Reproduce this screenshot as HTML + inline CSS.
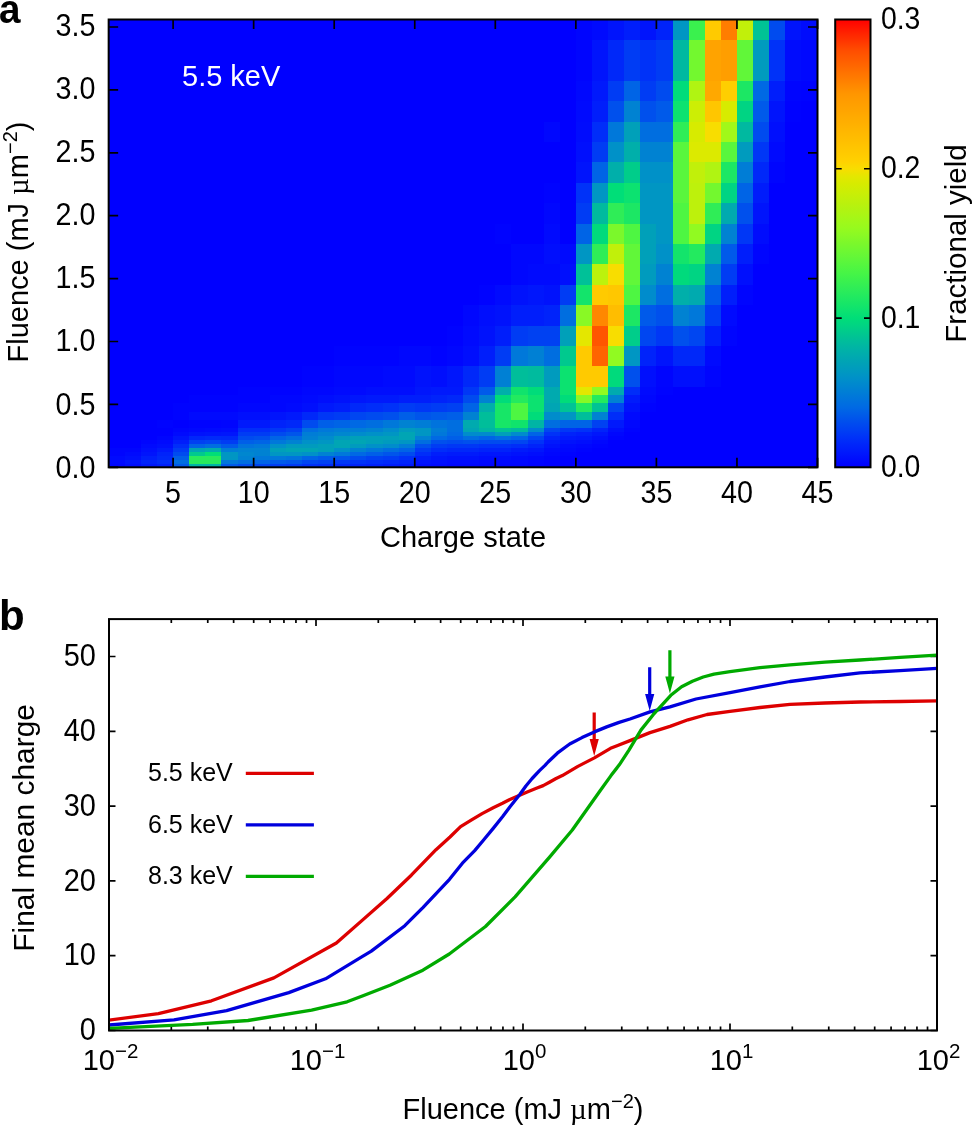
<!DOCTYPE html><html><head><meta charset="utf-8"><style>html,body{margin:0;padding:0;background:#fff;overflow:hidden;width:972px;height:1126px;}svg{display:block;will-change:transform;}text{font-family:"Liberation Sans", sans-serif;}</style></head><body><svg width="972" height="1126" viewBox="0 0 972 1126"><rect x="0" y="0" width="972" height="1126" fill="#fff"/><g shape-rendering="crispEdges"><rect x="108.66" y="19.50" width="467.19" height="20.41" fill="#0000ff"/><rect x="575.85" y="19.50" width="16.11" height="20.41" fill="#0005fe"/><rect x="591.96" y="19.50" width="16.11" height="20.41" fill="#000afe"/><rect x="608.07" y="19.50" width="16.11" height="20.41" fill="#0014fc"/><rect x="624.18" y="19.50" width="16.11" height="20.41" fill="#001efb"/><rect x="640.29" y="19.50" width="16.11" height="20.41" fill="#0014fc"/><rect x="656.40" y="19.50" width="16.11" height="20.41" fill="#0023fa"/><rect x="672.51" y="19.50" width="16.11" height="20.41" fill="#0096c3"/><rect x="688.62" y="19.50" width="16.11" height="20.41" fill="#3af14e"/><rect x="704.73" y="19.50" width="16.11" height="20.41" fill="#ffca00"/><rect x="720.84" y="19.50" width="16.11" height="20.41" fill="#ff7d00"/><rect x="736.95" y="19.50" width="16.11" height="20.41" fill="#c1f00a"/><rect x="753.06" y="19.50" width="16.11" height="20.41" fill="#00c395"/><rect x="769.17" y="19.50" width="16.11" height="20.41" fill="#004bef"/><rect x="785.28" y="19.50" width="16.11" height="20.41" fill="#0014fc"/><rect x="801.39" y="19.50" width="16.11" height="20.41" fill="#000cfd"/><rect x="108.66" y="39.91" width="467.19" height="20.41" fill="#0000ff"/><rect x="575.85" y="39.91" width="16.11" height="20.41" fill="#0005fe"/><rect x="591.96" y="39.91" width="16.11" height="20.41" fill="#0014fc"/><rect x="608.07" y="39.91" width="16.11" height="20.41" fill="#0028f9"/><rect x="624.18" y="39.91" width="16.11" height="20.41" fill="#003cf4"/><rect x="640.29" y="39.91" width="16.11" height="20.41" fill="#0032f8"/><rect x="656.40" y="39.91" width="16.11" height="20.41" fill="#003cf4"/><rect x="672.51" y="39.91" width="16.11" height="20.41" fill="#00b9a0"/><rect x="688.62" y="39.91" width="16.11" height="20.41" fill="#73f82f"/><rect x="704.73" y="39.91" width="16.11" height="20.41" fill="#ffa300"/><rect x="720.84" y="39.91" width="16.11" height="20.41" fill="#ff9e00"/><rect x="736.95" y="39.91" width="16.11" height="20.41" fill="#61f739"/><rect x="753.06" y="39.91" width="16.11" height="20.41" fill="#009bbe"/><rect x="769.17" y="39.91" width="16.11" height="20.41" fill="#0032f8"/><rect x="785.28" y="39.91" width="16.11" height="20.41" fill="#000cfd"/><rect x="801.39" y="39.91" width="16.11" height="20.41" fill="#0008fe"/><rect x="108.66" y="60.32" width="467.19" height="20.41" fill="#0000ff"/><rect x="575.85" y="60.32" width="16.11" height="20.41" fill="#0005fe"/><rect x="591.96" y="60.32" width="16.11" height="20.41" fill="#0014fc"/><rect x="608.07" y="60.32" width="16.11" height="20.41" fill="#0028f9"/><rect x="624.18" y="60.32" width="16.11" height="20.41" fill="#003cf4"/><rect x="640.29" y="60.32" width="16.11" height="20.41" fill="#0032f8"/><rect x="656.40" y="60.32" width="16.11" height="20.41" fill="#003cf4"/><rect x="672.51" y="60.32" width="16.11" height="20.41" fill="#00b9a0"/><rect x="688.62" y="60.32" width="16.11" height="20.41" fill="#73f82f"/><rect x="704.73" y="60.32" width="16.11" height="20.41" fill="#ffa300"/><rect x="720.84" y="60.32" width="16.11" height="20.41" fill="#ff9e00"/><rect x="736.95" y="60.32" width="16.11" height="20.41" fill="#61f739"/><rect x="753.06" y="60.32" width="16.11" height="20.41" fill="#009bbe"/><rect x="769.17" y="60.32" width="16.11" height="20.41" fill="#0032f8"/><rect x="785.28" y="60.32" width="16.11" height="20.41" fill="#000cfd"/><rect x="801.39" y="60.32" width="16.11" height="20.41" fill="#0008fe"/><rect x="108.66" y="80.73" width="467.19" height="20.41" fill="#0000ff"/><rect x="575.85" y="80.73" width="16.11" height="20.41" fill="#0008fe"/><rect x="591.96" y="80.73" width="16.11" height="20.41" fill="#0019fc"/><rect x="608.07" y="80.73" width="16.11" height="20.41" fill="#003cf4"/><rect x="624.18" y="80.73" width="16.11" height="20.41" fill="#0064e6"/><rect x="640.29" y="80.73" width="16.11" height="20.41" fill="#003cf4"/><rect x="656.40" y="80.73" width="16.11" height="20.41" fill="#004bef"/><rect x="672.51" y="80.73" width="16.11" height="20.41" fill="#00dc7a"/><rect x="688.62" y="80.73" width="16.11" height="20.41" fill="#b0f412"/><rect x="704.73" y="80.73" width="16.11" height="20.41" fill="#ffa800"/><rect x="720.84" y="80.73" width="16.11" height="20.41" fill="#ffce00"/><rect x="736.95" y="80.73" width="16.11" height="20.41" fill="#1ce764"/><rect x="753.06" y="80.73" width="16.11" height="20.41" fill="#0069e4"/><rect x="769.17" y="80.73" width="16.11" height="20.41" fill="#001efb"/><rect x="785.28" y="80.73" width="16.11" height="20.41" fill="#0005fe"/><rect x="801.39" y="80.73" width="16.11" height="20.41" fill="#0003ff"/><rect x="108.66" y="101.14" width="467.19" height="20.41" fill="#0000ff"/><rect x="575.85" y="101.14" width="16.11" height="20.41" fill="#000afe"/><rect x="591.96" y="101.14" width="16.11" height="20.41" fill="#001efb"/><rect x="608.07" y="101.14" width="16.11" height="20.41" fill="#0050ed"/><rect x="624.18" y="101.14" width="16.11" height="20.41" fill="#0082d2"/><rect x="640.29" y="101.14" width="16.11" height="20.41" fill="#0050ed"/><rect x="656.40" y="101.14" width="16.11" height="20.41" fill="#005aea"/><rect x="672.51" y="101.14" width="16.11" height="20.41" fill="#0ce270"/><rect x="688.62" y="101.14" width="16.11" height="20.41" fill="#ccee05"/><rect x="704.73" y="101.14" width="16.11" height="20.41" fill="#ffc600"/><rect x="720.84" y="101.14" width="16.11" height="20.41" fill="#d7eb00"/><rect x="736.95" y="101.14" width="16.11" height="20.41" fill="#00d483"/><rect x="753.06" y="101.14" width="16.11" height="20.41" fill="#005aea"/><rect x="769.17" y="101.14" width="16.11" height="20.41" fill="#0014fc"/><rect x="785.28" y="101.14" width="16.11" height="20.41" fill="#0002ff"/><rect x="801.39" y="101.14" width="16.11" height="20.41" fill="#0000ff"/><rect x="108.66" y="121.56" width="434.97" height="20.41" fill="#0000ff"/><rect x="543.63" y="121.56" width="16.11" height="20.41" fill="#0007fe"/><rect x="559.74" y="121.56" width="16.11" height="20.41" fill="#0000ff"/><rect x="575.85" y="121.56" width="16.11" height="20.41" fill="#000cfd"/><rect x="591.96" y="121.56" width="16.11" height="20.41" fill="#002df9"/><rect x="608.07" y="121.56" width="16.11" height="20.41" fill="#0078da"/><rect x="624.18" y="121.56" width="16.11" height="20.41" fill="#00a0b9"/><rect x="640.29" y="121.56" width="32.22" height="20.41" fill="#006ee0"/><rect x="672.51" y="121.56" width="16.11" height="20.41" fill="#2fed57"/><rect x="688.62" y="121.56" width="16.11" height="20.41" fill="#d7eb00"/><rect x="704.73" y="121.56" width="16.11" height="20.41" fill="#f8dd00"/><rect x="720.84" y="121.56" width="16.11" height="20.41" fill="#a1f819"/><rect x="736.95" y="121.56" width="16.11" height="20.41" fill="#00b9a0"/><rect x="753.06" y="121.56" width="16.11" height="20.41" fill="#004bef"/><rect x="769.17" y="121.56" width="16.11" height="20.41" fill="#000ffd"/><rect x="785.28" y="121.56" width="32.22" height="20.41" fill="#0000ff"/><rect x="108.66" y="141.97" width="467.19" height="20.41" fill="#0000ff"/><rect x="575.85" y="141.97" width="16.11" height="20.41" fill="#000ffd"/><rect x="591.96" y="141.97" width="16.11" height="20.41" fill="#003cf4"/><rect x="608.07" y="141.97" width="16.11" height="20.41" fill="#0091c8"/><rect x="624.18" y="141.97" width="16.11" height="20.41" fill="#00afaa"/><rect x="640.29" y="141.97" width="32.22" height="20.41" fill="#0082d2"/><rect x="672.51" y="141.97" width="16.11" height="20.41" fill="#59f63d"/><rect x="688.62" y="141.97" width="32.22" height="20.41" fill="#dcea00"/><rect x="720.84" y="141.97" width="16.11" height="20.41" fill="#59f63d"/><rect x="736.95" y="141.97" width="16.11" height="20.41" fill="#009bbe"/><rect x="753.06" y="141.97" width="16.11" height="20.41" fill="#0037f6"/><rect x="769.17" y="141.97" width="16.11" height="20.41" fill="#000afe"/><rect x="785.28" y="141.97" width="32.22" height="20.41" fill="#0000ff"/><rect x="108.66" y="162.38" width="467.19" height="20.41" fill="#0000ff"/><rect x="575.85" y="162.38" width="16.11" height="20.41" fill="#0014fc"/><rect x="591.96" y="162.38" width="16.11" height="20.41" fill="#0064e6"/><rect x="608.07" y="162.38" width="16.11" height="20.41" fill="#00afaa"/><rect x="624.18" y="162.38" width="16.11" height="20.41" fill="#00cd8a"/><rect x="640.29" y="162.38" width="32.22" height="20.41" fill="#0091c8"/><rect x="672.51" y="162.38" width="16.11" height="20.41" fill="#59f63d"/><rect x="688.62" y="162.38" width="16.11" height="20.41" fill="#c1f00a"/><rect x="704.73" y="162.38" width="16.11" height="20.41" fill="#b0f412"/><rect x="720.84" y="162.38" width="16.11" height="20.41" fill="#1ce764"/><rect x="736.95" y="162.38" width="16.11" height="20.41" fill="#007dd6"/><rect x="753.06" y="162.38" width="16.11" height="20.41" fill="#0028f9"/><rect x="769.17" y="162.38" width="16.11" height="20.41" fill="#0005fe"/><rect x="785.28" y="162.38" width="32.22" height="20.41" fill="#0000ff"/><rect x="108.66" y="182.79" width="434.97" height="20.41" fill="#0000ff"/><rect x="543.63" y="182.79" width="16.11" height="20.41" fill="#0003ff"/><rect x="559.74" y="182.79" width="16.11" height="20.41" fill="#0000ff"/><rect x="575.85" y="182.79" width="16.11" height="20.41" fill="#0032f8"/><rect x="591.96" y="182.79" width="16.11" height="20.41" fill="#0096c3"/><rect x="608.07" y="182.79" width="16.11" height="20.41" fill="#00de78"/><rect x="624.18" y="182.79" width="16.11" height="20.41" fill="#0ce270"/><rect x="640.29" y="182.79" width="32.22" height="20.41" fill="#0096c3"/><rect x="672.51" y="182.79" width="16.11" height="20.41" fill="#59f63d"/><rect x="688.62" y="182.79" width="16.11" height="20.41" fill="#bdf10c"/><rect x="704.73" y="182.79" width="16.11" height="20.41" fill="#73f82f"/><rect x="720.84" y="182.79" width="16.11" height="20.41" fill="#00d483"/><rect x="736.95" y="182.79" width="16.11" height="20.41" fill="#0064e6"/><rect x="753.06" y="182.79" width="16.11" height="20.41" fill="#001cfb"/><rect x="769.17" y="182.79" width="48.33" height="20.41" fill="#0000ff"/><rect x="108.66" y="203.20" width="434.97" height="20.41" fill="#0000ff"/><rect x="543.63" y="203.20" width="16.11" height="20.41" fill="#0007fe"/><rect x="559.74" y="203.20" width="16.11" height="20.41" fill="#0000ff"/><rect x="575.85" y="203.20" width="16.11" height="20.41" fill="#003cf4"/><rect x="591.96" y="203.20" width="16.11" height="20.41" fill="#00ba9e"/><rect x="608.07" y="203.20" width="16.11" height="20.41" fill="#2fed57"/><rect x="624.18" y="203.20" width="16.11" height="20.41" fill="#1ce764"/><rect x="640.29" y="203.20" width="32.22" height="20.41" fill="#0096c3"/><rect x="672.51" y="203.20" width="16.11" height="20.41" fill="#4ef642"/><rect x="688.62" y="203.20" width="16.11" height="20.41" fill="#bdf10c"/><rect x="704.73" y="203.20" width="16.11" height="20.41" fill="#2fed57"/><rect x="720.84" y="203.20" width="16.11" height="20.41" fill="#00aaaf"/><rect x="736.95" y="203.20" width="16.11" height="20.41" fill="#0050ed"/><rect x="753.06" y="203.20" width="16.11" height="20.41" fill="#0014fc"/><rect x="769.17" y="203.20" width="48.33" height="20.41" fill="#0000ff"/><rect x="108.66" y="223.61" width="386.64" height="20.41" fill="#0000ff"/><rect x="495.30" y="223.61" width="16.11" height="20.41" fill="#0003ff"/><rect x="511.41" y="223.61" width="32.22" height="20.41" fill="#0000ff"/><rect x="543.63" y="223.61" width="16.11" height="20.41" fill="#000afe"/><rect x="559.74" y="223.61" width="16.11" height="20.41" fill="#0000ff"/><rect x="575.85" y="223.61" width="16.11" height="20.41" fill="#0064e6"/><rect x="591.96" y="223.61" width="16.11" height="20.41" fill="#00da7c"/><rect x="608.07" y="223.61" width="16.11" height="20.41" fill="#7bf82b"/><rect x="624.18" y="223.61" width="16.11" height="20.41" fill="#4ef642"/><rect x="640.29" y="223.61" width="16.11" height="20.41" fill="#00a0b9"/><rect x="656.40" y="223.61" width="16.11" height="20.41" fill="#0096c3"/><rect x="672.51" y="223.61" width="16.11" height="20.41" fill="#4ef642"/><rect x="688.62" y="223.61" width="16.11" height="20.41" fill="#91fa21"/><rect x="704.73" y="223.61" width="16.11" height="20.41" fill="#00d483"/><rect x="720.84" y="223.61" width="16.11" height="20.41" fill="#0082d2"/><rect x="736.95" y="223.61" width="16.11" height="20.41" fill="#0037f6"/><rect x="753.06" y="223.61" width="16.11" height="20.41" fill="#000cfd"/><rect x="769.17" y="223.61" width="48.33" height="20.41" fill="#0000ff"/><rect x="108.66" y="244.02" width="402.75" height="20.41" fill="#0000ff"/><rect x="511.41" y="244.02" width="32.22" height="20.41" fill="#0007fe"/><rect x="543.63" y="244.02" width="16.11" height="20.41" fill="#000efd"/><rect x="559.74" y="244.02" width="16.11" height="20.41" fill="#000afe"/><rect x="575.85" y="244.02" width="16.11" height="20.41" fill="#0096c3"/><rect x="591.96" y="244.02" width="16.11" height="20.41" fill="#2fed57"/><rect x="608.07" y="244.02" width="16.11" height="20.41" fill="#c1f00a"/><rect x="624.18" y="244.02" width="16.11" height="20.41" fill="#61f739"/><rect x="640.29" y="244.02" width="16.11" height="20.41" fill="#00a0b9"/><rect x="656.40" y="244.02" width="16.11" height="20.41" fill="#0091c8"/><rect x="672.51" y="244.02" width="16.11" height="20.41" fill="#13e46b"/><rect x="688.62" y="244.02" width="16.11" height="20.41" fill="#23ea5f"/><rect x="704.73" y="244.02" width="16.11" height="20.41" fill="#00aaaf"/><rect x="720.84" y="244.02" width="16.11" height="20.41" fill="#005aea"/><rect x="736.95" y="244.02" width="16.11" height="20.41" fill="#001efb"/><rect x="753.06" y="244.02" width="16.11" height="20.41" fill="#0005fe"/><rect x="769.17" y="244.02" width="48.33" height="20.41" fill="#0000ff"/><rect x="108.66" y="264.43" width="402.75" height="20.41" fill="#0000ff"/><rect x="511.41" y="264.43" width="16.11" height="20.41" fill="#0007fe"/><rect x="527.52" y="264.43" width="32.22" height="20.41" fill="#000afe"/><rect x="559.74" y="264.43" width="16.11" height="20.41" fill="#000ffd"/><rect x="575.85" y="264.43" width="16.11" height="20.41" fill="#00c198"/><rect x="591.96" y="264.43" width="16.11" height="20.41" fill="#bbf20d"/><rect x="608.07" y="264.43" width="16.11" height="20.41" fill="#f8dd00"/><rect x="624.18" y="264.43" width="16.11" height="20.41" fill="#61f739"/><rect x="640.29" y="264.43" width="16.11" height="20.41" fill="#009bbe"/><rect x="656.40" y="264.43" width="16.11" height="20.41" fill="#0082d2"/><rect x="672.51" y="264.43" width="16.11" height="20.41" fill="#00da7c"/><rect x="688.62" y="264.43" width="16.11" height="20.41" fill="#00d483"/><rect x="704.73" y="264.43" width="16.11" height="20.41" fill="#0082d2"/><rect x="720.84" y="264.43" width="16.11" height="20.41" fill="#003cf4"/><rect x="736.95" y="264.43" width="16.11" height="20.41" fill="#000ffd"/><rect x="753.06" y="264.43" width="64.44" height="20.41" fill="#0000ff"/><rect x="108.66" y="284.84" width="370.53" height="20.41" fill="#0000ff"/><rect x="479.19" y="284.84" width="16.11" height="20.41" fill="#0003ff"/><rect x="495.30" y="284.84" width="16.11" height="20.41" fill="#000afe"/><rect x="511.41" y="284.84" width="16.11" height="20.41" fill="#0012fc"/><rect x="527.52" y="284.84" width="16.11" height="20.41" fill="#0016fc"/><rect x="543.63" y="284.84" width="16.11" height="20.41" fill="#0012fc"/><rect x="559.74" y="284.84" width="16.11" height="20.41" fill="#003cf4"/><rect x="575.85" y="284.84" width="16.11" height="20.41" fill="#13e46b"/><rect x="591.96" y="284.84" width="16.11" height="20.41" fill="#ffca00"/><rect x="608.07" y="284.84" width="16.11" height="20.41" fill="#ffc700"/><rect x="624.18" y="284.84" width="16.11" height="20.41" fill="#4ef642"/><rect x="640.29" y="284.84" width="16.11" height="20.41" fill="#008ccc"/><rect x="656.40" y="284.84" width="16.11" height="20.41" fill="#006ee0"/><rect x="672.51" y="284.84" width="16.11" height="20.41" fill="#00afaa"/><rect x="688.62" y="284.84" width="16.11" height="20.41" fill="#00aaaf"/><rect x="704.73" y="284.84" width="16.11" height="20.41" fill="#005aea"/><rect x="720.84" y="284.84" width="16.11" height="20.41" fill="#001efb"/><rect x="736.95" y="284.84" width="16.11" height="20.41" fill="#0005fe"/><rect x="753.06" y="284.84" width="64.44" height="20.41" fill="#0000ff"/><rect x="108.66" y="305.26" width="354.42" height="20.41" fill="#0000ff"/><rect x="463.08" y="305.26" width="16.11" height="20.41" fill="#0007fe"/><rect x="479.19" y="305.26" width="16.11" height="20.41" fill="#000efd"/><rect x="495.30" y="305.26" width="16.11" height="20.41" fill="#0012fc"/><rect x="511.41" y="305.26" width="32.22" height="20.41" fill="#001efb"/><rect x="543.63" y="305.26" width="16.11" height="20.41" fill="#0023fa"/><rect x="559.74" y="305.26" width="16.11" height="20.41" fill="#006ee0"/><rect x="575.85" y="305.26" width="16.11" height="20.41" fill="#89f925"/><rect x="591.96" y="305.26" width="16.11" height="20.41" fill="#ff8700"/><rect x="608.07" y="305.26" width="16.11" height="20.41" fill="#ffbd00"/><rect x="624.18" y="305.26" width="16.11" height="20.41" fill="#1ce764"/><rect x="640.29" y="305.26" width="16.11" height="20.41" fill="#005aea"/><rect x="656.40" y="305.26" width="16.11" height="20.41" fill="#0050ed"/><rect x="672.51" y="305.26" width="16.11" height="20.41" fill="#0082d2"/><rect x="688.62" y="305.26" width="16.11" height="20.41" fill="#0078da"/><rect x="704.73" y="305.26" width="16.11" height="20.41" fill="#003cf4"/><rect x="720.84" y="305.26" width="16.11" height="20.41" fill="#000afe"/><rect x="736.95" y="305.26" width="80.55" height="20.41" fill="#0000ff"/><rect x="108.66" y="325.67" width="338.31" height="20.41" fill="#0000ff"/><rect x="446.97" y="325.67" width="16.11" height="20.41" fill="#0003ff"/><rect x="463.08" y="325.67" width="16.11" height="20.41" fill="#000afe"/><rect x="479.19" y="325.67" width="16.11" height="20.41" fill="#0012fc"/><rect x="495.30" y="325.67" width="16.11" height="20.41" fill="#001efb"/><rect x="511.41" y="325.67" width="16.11" height="20.41" fill="#003cf4"/><rect x="527.52" y="325.67" width="32.22" height="20.41" fill="#0041f2"/><rect x="559.74" y="325.67" width="16.11" height="20.41" fill="#00a0b9"/><rect x="575.85" y="325.67" width="16.11" height="20.41" fill="#e4e700"/><rect x="591.96" y="325.67" width="16.11" height="20.41" fill="#ff5500"/><rect x="608.07" y="325.67" width="16.11" height="20.41" fill="#f8dd00"/><rect x="624.18" y="325.67" width="16.11" height="20.41" fill="#00cd8a"/><rect x="640.29" y="325.67" width="16.11" height="20.41" fill="#0046f1"/><rect x="656.40" y="325.67" width="16.11" height="20.41" fill="#0037f6"/><rect x="672.51" y="325.67" width="16.11" height="20.41" fill="#0050ed"/><rect x="688.62" y="325.67" width="16.11" height="20.41" fill="#0046f1"/><rect x="704.73" y="325.67" width="16.11" height="20.41" fill="#001efb"/><rect x="720.84" y="325.67" width="16.11" height="20.41" fill="#0005fe"/><rect x="736.95" y="325.67" width="80.55" height="20.41" fill="#0000ff"/><rect x="108.66" y="346.08" width="225.54" height="20.41" fill="#0000ff"/><rect x="334.20" y="346.08" width="64.44" height="20.41" fill="#0003ff"/><rect x="398.64" y="346.08" width="32.22" height="20.41" fill="#0007fe"/><rect x="430.86" y="346.08" width="16.11" height="20.41" fill="#0003ff"/><rect x="446.97" y="346.08" width="16.11" height="20.41" fill="#0007fe"/><rect x="463.08" y="346.08" width="16.11" height="20.41" fill="#000efd"/><rect x="479.19" y="346.08" width="16.11" height="20.41" fill="#001efb"/><rect x="495.30" y="346.08" width="16.11" height="20.41" fill="#003cf4"/><rect x="511.41" y="346.08" width="16.11" height="20.41" fill="#0078da"/><rect x="527.52" y="346.08" width="16.11" height="20.41" fill="#0080d4"/><rect x="543.63" y="346.08" width="16.11" height="20.41" fill="#006ee0"/><rect x="559.74" y="346.08" width="16.11" height="20.41" fill="#00c98e"/><rect x="575.85" y="346.08" width="16.11" height="20.41" fill="#ffca00"/><rect x="591.96" y="346.08" width="16.11" height="20.41" fill="#ff6400"/><rect x="608.07" y="346.08" width="16.11" height="20.41" fill="#91fa21"/><rect x="624.18" y="346.08" width="16.11" height="20.41" fill="#0096c3"/><rect x="640.29" y="346.08" width="16.11" height="20.41" fill="#0023fa"/><rect x="656.40" y="346.08" width="16.11" height="20.41" fill="#0014fc"/><rect x="672.51" y="346.08" width="32.22" height="20.41" fill="#0028f9"/><rect x="704.73" y="346.08" width="16.11" height="20.41" fill="#000afe"/><rect x="720.84" y="346.08" width="96.66" height="20.41" fill="#0000ff"/><rect x="108.66" y="366.49" width="193.32" height="20.41" fill="#0000ff"/><rect x="301.98" y="366.49" width="32.22" height="20.41" fill="#0003ff"/><rect x="334.20" y="366.49" width="48.33" height="20.41" fill="#0007fe"/><rect x="382.53" y="366.49" width="32.22" height="20.41" fill="#000afe"/><rect x="414.75" y="366.49" width="16.11" height="20.41" fill="#0012fc"/><rect x="430.86" y="366.49" width="16.11" height="20.41" fill="#000efd"/><rect x="446.97" y="366.49" width="16.11" height="20.41" fill="#0016fc"/><rect x="463.08" y="366.49" width="16.11" height="20.41" fill="#0028f9"/><rect x="479.19" y="366.49" width="16.11" height="20.41" fill="#003cf4"/><rect x="495.30" y="366.49" width="16.11" height="20.41" fill="#0080d4"/><rect x="511.41" y="366.49" width="16.11" height="20.41" fill="#00be9a"/><rect x="527.52" y="366.49" width="16.11" height="20.41" fill="#00bb9e"/><rect x="543.63" y="366.49" width="16.11" height="20.41" fill="#009bbe"/><rect x="559.74" y="366.49" width="16.11" height="20.41" fill="#0ce270"/><rect x="575.85" y="366.49" width="32.22" height="20.41" fill="#ffca00"/><rect x="608.07" y="366.49" width="16.11" height="20.41" fill="#00da7c"/><rect x="624.18" y="366.49" width="16.11" height="20.41" fill="#0050ed"/><rect x="640.29" y="366.49" width="16.11" height="20.41" fill="#000ffd"/><rect x="656.40" y="366.49" width="16.11" height="20.41" fill="#0005fe"/><rect x="672.51" y="366.49" width="32.22" height="20.41" fill="#000ffd"/><rect x="704.73" y="366.49" width="16.11" height="20.41" fill="#0005fe"/><rect x="720.84" y="366.49" width="96.66" height="20.41" fill="#0000ff"/><rect x="108.66" y="386.90" width="128.88" height="8.20" fill="#0000ff"/><rect x="237.54" y="386.90" width="64.44" height="8.20" fill="#0003ff"/><rect x="301.98" y="386.90" width="32.22" height="8.20" fill="#0007fe"/><rect x="334.20" y="386.90" width="32.22" height="8.20" fill="#000afe"/><rect x="366.42" y="386.90" width="48.33" height="8.20" fill="#000efd"/><rect x="414.75" y="386.90" width="16.11" height="8.20" fill="#0016fc"/><rect x="430.86" y="386.90" width="32.22" height="8.20" fill="#0019fc"/><rect x="463.08" y="386.90" width="16.11" height="8.20" fill="#0037f6"/><rect x="479.19" y="386.90" width="16.11" height="8.20" fill="#005aea"/><rect x="495.30" y="386.90" width="16.11" height="8.20" fill="#00afaa"/><rect x="511.41" y="386.90" width="16.11" height="8.20" fill="#10e36c"/><rect x="527.52" y="386.90" width="16.11" height="8.20" fill="#00dc7a"/><rect x="543.63" y="386.90" width="16.11" height="8.20" fill="#00aaaf"/><rect x="559.74" y="386.90" width="16.11" height="8.20" fill="#0ce270"/><rect x="575.85" y="386.90" width="16.11" height="8.20" fill="#e4e700"/><rect x="591.96" y="386.90" width="16.11" height="8.20" fill="#91fa21"/><rect x="608.07" y="386.90" width="16.11" height="8.20" fill="#00aaaf"/><rect x="624.18" y="386.90" width="16.11" height="8.20" fill="#002df9"/><rect x="640.29" y="386.90" width="16.11" height="8.20" fill="#000afe"/><rect x="656.40" y="386.90" width="16.11" height="8.20" fill="#0003ff"/><rect x="672.51" y="386.90" width="144.99" height="8.20" fill="#0000ff"/><rect x="108.66" y="395.10" width="80.55" height="8.20" fill="#0000ff"/><rect x="189.21" y="395.10" width="80.55" height="8.20" fill="#0003ff"/><rect x="269.76" y="395.10" width="32.22" height="8.20" fill="#0007fe"/><rect x="301.98" y="395.10" width="16.11" height="8.20" fill="#000afe"/><rect x="318.09" y="395.10" width="16.11" height="8.20" fill="#000efd"/><rect x="334.20" y="395.10" width="16.11" height="8.20" fill="#0012fc"/><rect x="350.31" y="395.10" width="16.11" height="8.20" fill="#0016fc"/><rect x="366.42" y="395.10" width="32.22" height="8.20" fill="#0019fc"/><rect x="398.64" y="395.10" width="32.22" height="8.20" fill="#001efb"/><rect x="430.86" y="395.10" width="16.11" height="8.20" fill="#0023fa"/><rect x="446.97" y="395.10" width="16.11" height="8.20" fill="#0028f9"/><rect x="463.08" y="395.10" width="16.11" height="8.20" fill="#004bef"/><rect x="479.19" y="395.10" width="16.11" height="8.20" fill="#0082d2"/><rect x="495.30" y="395.10" width="16.11" height="8.20" fill="#00dc7a"/><rect x="511.41" y="395.10" width="16.11" height="8.20" fill="#23ea5f"/><rect x="527.52" y="395.10" width="16.11" height="8.20" fill="#0ce270"/><rect x="543.63" y="395.10" width="16.11" height="8.20" fill="#00aaaf"/><rect x="559.74" y="395.10" width="16.11" height="8.20" fill="#00dc7a"/><rect x="575.85" y="395.10" width="16.11" height="8.20" fill="#89f925"/><rect x="591.96" y="395.10" width="16.11" height="8.20" fill="#23ea5f"/><rect x="608.07" y="395.10" width="16.11" height="8.20" fill="#0082d2"/><rect x="624.18" y="395.10" width="16.11" height="8.20" fill="#001bfb"/><rect x="640.29" y="395.10" width="16.11" height="8.20" fill="#0007fe"/><rect x="656.40" y="395.10" width="161.10" height="8.20" fill="#0000ff"/><rect x="108.66" y="403.30" width="64.44" height="8.20" fill="#0000ff"/><rect x="173.10" y="403.30" width="64.44" height="8.20" fill="#0003ff"/><rect x="237.54" y="403.30" width="48.33" height="8.20" fill="#0007fe"/><rect x="285.87" y="403.30" width="16.11" height="8.20" fill="#000afe"/><rect x="301.98" y="403.30" width="16.11" height="8.20" fill="#000ffd"/><rect x="318.09" y="403.30" width="16.11" height="8.20" fill="#0019fc"/><rect x="334.20" y="403.30" width="16.11" height="8.20" fill="#001efb"/><rect x="350.31" y="403.30" width="16.11" height="8.20" fill="#0028f9"/><rect x="366.42" y="403.30" width="16.11" height="8.20" fill="#002df9"/><rect x="382.53" y="403.30" width="16.11" height="8.20" fill="#0032f8"/><rect x="398.64" y="403.30" width="16.11" height="8.20" fill="#003cf4"/><rect x="414.75" y="403.30" width="16.11" height="8.20" fill="#0037f6"/><rect x="430.86" y="403.30" width="16.11" height="8.20" fill="#003cf4"/><rect x="446.97" y="403.30" width="16.11" height="8.20" fill="#0041f2"/><rect x="463.08" y="403.30" width="16.11" height="8.20" fill="#0064e6"/><rect x="479.19" y="403.30" width="16.11" height="8.20" fill="#00afaa"/><rect x="495.30" y="403.30" width="16.11" height="8.20" fill="#17e667"/><rect x="511.41" y="403.30" width="16.11" height="8.20" fill="#4ef642"/><rect x="527.52" y="403.30" width="16.11" height="8.20" fill="#0ce270"/><rect x="543.63" y="403.30" width="16.11" height="8.20" fill="#00a5b4"/><rect x="559.74" y="403.30" width="16.11" height="8.20" fill="#00c395"/><rect x="575.85" y="403.30" width="16.11" height="8.20" fill="#23ea5f"/><rect x="591.96" y="403.30" width="16.11" height="8.20" fill="#00c395"/><rect x="608.07" y="403.30" width="16.11" height="8.20" fill="#0046f1"/><rect x="624.18" y="403.30" width="16.11" height="8.20" fill="#0012fc"/><rect x="640.29" y="403.30" width="16.11" height="8.20" fill="#0003ff"/><rect x="656.40" y="403.30" width="161.10" height="8.20" fill="#0000ff"/><rect x="108.66" y="411.50" width="64.44" height="8.20" fill="#0000ff"/><rect x="173.10" y="411.50" width="16.11" height="8.20" fill="#0003ff"/><rect x="189.21" y="411.50" width="48.33" height="8.20" fill="#000afe"/><rect x="237.54" y="411.50" width="32.22" height="8.20" fill="#000ffd"/><rect x="269.76" y="411.50" width="16.11" height="8.20" fill="#0014fc"/><rect x="285.87" y="411.50" width="16.11" height="8.20" fill="#0019fc"/><rect x="301.98" y="411.50" width="16.11" height="8.20" fill="#0028f9"/><rect x="318.09" y="411.50" width="16.11" height="8.20" fill="#0037f6"/><rect x="334.20" y="411.50" width="16.11" height="8.20" fill="#003cf4"/><rect x="350.31" y="411.50" width="16.11" height="8.20" fill="#0046f1"/><rect x="366.42" y="411.50" width="16.11" height="8.20" fill="#004bef"/><rect x="382.53" y="411.50" width="16.11" height="8.20" fill="#0050ed"/><rect x="398.64" y="411.50" width="16.11" height="8.20" fill="#005fe8"/><rect x="414.75" y="411.50" width="16.11" height="8.20" fill="#0055eb"/><rect x="430.86" y="411.50" width="16.11" height="8.20" fill="#005aea"/><rect x="446.97" y="411.50" width="16.11" height="8.20" fill="#005fe8"/><rect x="463.08" y="411.50" width="16.11" height="8.20" fill="#0082d2"/><rect x="479.19" y="411.50" width="16.11" height="8.20" fill="#00be9a"/><rect x="495.30" y="411.50" width="16.11" height="8.20" fill="#17e667"/><rect x="511.41" y="411.50" width="16.11" height="8.20" fill="#4ef642"/><rect x="527.52" y="411.50" width="16.11" height="8.20" fill="#00dc7a"/><rect x="543.63" y="411.50" width="16.11" height="8.20" fill="#008ccc"/><rect x="559.74" y="411.50" width="16.11" height="8.20" fill="#0096c3"/><rect x="575.85" y="411.50" width="16.11" height="8.20" fill="#00be9a"/><rect x="591.96" y="411.50" width="16.11" height="8.20" fill="#0082d2"/><rect x="608.07" y="411.50" width="16.11" height="8.20" fill="#002df9"/><rect x="624.18" y="411.50" width="16.11" height="8.20" fill="#000afe"/><rect x="640.29" y="411.50" width="177.21" height="8.20" fill="#0000ff"/><rect x="108.66" y="419.70" width="48.33" height="8.20" fill="#0000ff"/><rect x="156.99" y="419.70" width="16.11" height="8.20" fill="#0003ff"/><rect x="173.10" y="419.70" width="16.11" height="8.20" fill="#0000ff"/><rect x="189.21" y="419.70" width="32.22" height="8.20" fill="#0003ff"/><rect x="221.43" y="419.70" width="16.11" height="8.20" fill="#0005fe"/><rect x="237.54" y="419.70" width="32.22" height="8.20" fill="#0019fc"/><rect x="269.76" y="419.70" width="16.11" height="8.20" fill="#0023fa"/><rect x="285.87" y="419.70" width="16.11" height="8.20" fill="#0028f9"/><rect x="301.98" y="419.70" width="16.11" height="8.20" fill="#004bef"/><rect x="318.09" y="419.70" width="16.11" height="8.20" fill="#005fe8"/><rect x="334.20" y="419.70" width="16.11" height="8.20" fill="#0064e6"/><rect x="350.31" y="419.70" width="16.11" height="8.20" fill="#0069e4"/><rect x="366.42" y="419.70" width="16.11" height="8.20" fill="#006ee0"/><rect x="382.53" y="419.70" width="16.11" height="8.20" fill="#0078da"/><rect x="398.64" y="419.70" width="16.11" height="8.20" fill="#0082d2"/><rect x="414.75" y="419.70" width="16.11" height="8.20" fill="#007dd6"/><rect x="430.86" y="419.70" width="16.11" height="8.20" fill="#0073dd"/><rect x="446.97" y="419.70" width="16.11" height="8.20" fill="#006ee0"/><rect x="463.08" y="419.70" width="16.11" height="8.20" fill="#00aaaf"/><rect x="479.19" y="419.70" width="16.11" height="8.20" fill="#00be9a"/><rect x="495.30" y="419.70" width="16.11" height="8.20" fill="#17e667"/><rect x="511.41" y="419.70" width="16.11" height="8.20" fill="#10e36c"/><rect x="527.52" y="419.70" width="16.11" height="8.20" fill="#00b4a5"/><rect x="543.63" y="419.70" width="16.11" height="8.20" fill="#006ee0"/><rect x="559.74" y="419.70" width="32.22" height="8.20" fill="#0064e6"/><rect x="591.96" y="419.70" width="16.11" height="8.20" fill="#0041f2"/><rect x="608.07" y="419.70" width="16.11" height="8.20" fill="#0019fc"/><rect x="624.18" y="419.70" width="16.11" height="8.20" fill="#0007fe"/><rect x="640.29" y="419.70" width="177.21" height="8.20" fill="#0000ff"/><rect x="108.66" y="427.90" width="64.44" height="4.02" fill="#0000ff"/><rect x="173.10" y="427.90" width="16.11" height="4.02" fill="#0005fe"/><rect x="189.21" y="427.90" width="16.11" height="4.02" fill="#0008fe"/><rect x="205.32" y="427.90" width="16.11" height="4.02" fill="#000afe"/><rect x="221.43" y="427.90" width="16.11" height="4.02" fill="#000cfd"/><rect x="237.54" y="427.90" width="32.22" height="4.02" fill="#002df9"/><rect x="269.76" y="427.90" width="16.11" height="4.02" fill="#0037f6"/><rect x="285.87" y="427.90" width="16.11" height="4.02" fill="#0041f2"/><rect x="301.98" y="427.90" width="16.11" height="4.02" fill="#006ee0"/><rect x="318.09" y="427.90" width="16.11" height="4.02" fill="#0078da"/><rect x="334.20" y="427.90" width="32.22" height="4.02" fill="#007dd6"/><rect x="366.42" y="427.90" width="16.11" height="4.02" fill="#0082d2"/><rect x="382.53" y="427.90" width="16.11" height="4.02" fill="#008ccc"/><rect x="398.64" y="427.90" width="16.11" height="4.02" fill="#009bbe"/><rect x="414.75" y="427.90" width="16.11" height="4.02" fill="#0096c3"/><rect x="430.86" y="427.90" width="16.11" height="4.02" fill="#007dd6"/><rect x="446.97" y="427.90" width="16.11" height="4.02" fill="#006ee0"/><rect x="463.08" y="427.90" width="16.11" height="4.02" fill="#00a5b4"/><rect x="479.19" y="427.90" width="16.11" height="4.02" fill="#00b6a3"/><rect x="495.30" y="427.90" width="16.11" height="4.02" fill="#00c395"/><rect x="511.41" y="427.90" width="16.11" height="4.02" fill="#00bb9e"/><rect x="527.52" y="427.90" width="16.11" height="4.02" fill="#008ccc"/><rect x="543.63" y="427.90" width="16.11" height="4.02" fill="#0046f1"/><rect x="559.74" y="427.90" width="16.11" height="4.02" fill="#0037f6"/><rect x="575.85" y="427.90" width="16.11" height="4.02" fill="#0032f8"/><rect x="591.96" y="427.90" width="16.11" height="4.02" fill="#0023fa"/><rect x="608.07" y="427.90" width="16.11" height="4.02" fill="#000efd"/><rect x="624.18" y="427.90" width="16.11" height="4.02" fill="#0003ff"/><rect x="640.29" y="427.90" width="177.21" height="4.02" fill="#0000ff"/><rect x="108.66" y="431.92" width="64.44" height="4.02" fill="#0000ff"/><rect x="173.10" y="431.92" width="16.11" height="4.02" fill="#000afe"/><rect x="189.21" y="431.92" width="16.11" height="4.02" fill="#0012fc"/><rect x="205.32" y="431.92" width="16.11" height="4.02" fill="#0014fc"/><rect x="221.43" y="431.92" width="16.11" height="4.02" fill="#0016fc"/><rect x="237.54" y="431.92" width="32.22" height="4.02" fill="#003cf4"/><rect x="269.76" y="431.92" width="16.11" height="4.02" fill="#004bef"/><rect x="285.87" y="431.92" width="16.11" height="4.02" fill="#0055eb"/><rect x="301.98" y="431.92" width="16.11" height="4.02" fill="#007dd6"/><rect x="318.09" y="431.92" width="16.11" height="4.02" fill="#0082d2"/><rect x="334.20" y="431.92" width="16.11" height="4.02" fill="#0087cf"/><rect x="350.31" y="431.92" width="16.11" height="4.02" fill="#008ccc"/><rect x="366.42" y="431.92" width="16.11" height="4.02" fill="#0091c8"/><rect x="382.53" y="431.92" width="16.11" height="4.02" fill="#0096c3"/><rect x="398.64" y="431.92" width="16.11" height="4.02" fill="#00a5b4"/><rect x="414.75" y="431.92" width="16.11" height="4.02" fill="#0096c3"/><rect x="430.86" y="431.92" width="16.11" height="4.02" fill="#0078da"/><rect x="446.97" y="431.92" width="16.11" height="4.02" fill="#0069e4"/><rect x="463.08" y="431.92" width="32.22" height="4.02" fill="#008ccc"/><rect x="495.30" y="431.92" width="16.11" height="4.02" fill="#00a0b9"/><rect x="511.41" y="431.92" width="16.11" height="4.02" fill="#008ccc"/><rect x="527.52" y="431.92" width="16.11" height="4.02" fill="#0064e6"/><rect x="543.63" y="431.92" width="16.11" height="4.02" fill="#0032f8"/><rect x="559.74" y="431.92" width="16.11" height="4.02" fill="#0023fa"/><rect x="575.85" y="431.92" width="16.11" height="4.02" fill="#001efb"/><rect x="591.96" y="431.92" width="16.11" height="4.02" fill="#0016fc"/><rect x="608.07" y="431.92" width="16.11" height="4.02" fill="#0007fe"/><rect x="624.18" y="431.92" width="193.32" height="4.02" fill="#0000ff"/><rect x="108.66" y="435.94" width="48.33" height="4.02" fill="#0000ff"/><rect x="156.99" y="435.94" width="16.11" height="4.02" fill="#0005fe"/><rect x="173.10" y="435.94" width="16.11" height="4.02" fill="#0014fc"/><rect x="189.21" y="435.94" width="16.11" height="4.02" fill="#0026fa"/><rect x="205.32" y="435.94" width="16.11" height="4.02" fill="#002af9"/><rect x="221.43" y="435.94" width="16.11" height="4.02" fill="#0028f9"/><rect x="237.54" y="435.94" width="16.11" height="4.02" fill="#004bef"/><rect x="253.65" y="435.94" width="16.11" height="4.02" fill="#0050ed"/><rect x="269.76" y="435.94" width="16.11" height="4.02" fill="#0064e6"/><rect x="285.87" y="435.94" width="16.11" height="4.02" fill="#006ee0"/><rect x="301.98" y="435.94" width="16.11" height="4.02" fill="#0082d2"/><rect x="318.09" y="435.94" width="16.11" height="4.02" fill="#008ccc"/><rect x="334.20" y="435.94" width="16.11" height="4.02" fill="#009bbe"/><rect x="350.31" y="435.94" width="48.33" height="4.02" fill="#00a0b9"/><rect x="398.64" y="435.94" width="16.11" height="4.02" fill="#00a5b4"/><rect x="414.75" y="435.94" width="16.11" height="4.02" fill="#0082d2"/><rect x="430.86" y="435.94" width="16.11" height="4.02" fill="#0069e4"/><rect x="446.97" y="435.94" width="16.11" height="4.02" fill="#005fe8"/><rect x="463.08" y="435.94" width="16.11" height="4.02" fill="#006ee0"/><rect x="479.19" y="435.94" width="16.11" height="4.02" fill="#0064e6"/><rect x="495.30" y="435.94" width="16.11" height="4.02" fill="#006ee0"/><rect x="511.41" y="435.94" width="16.11" height="4.02" fill="#0064e6"/><rect x="527.52" y="435.94" width="16.11" height="4.02" fill="#0046f1"/><rect x="543.63" y="435.94" width="16.11" height="4.02" fill="#0023fa"/><rect x="559.74" y="435.94" width="16.11" height="4.02" fill="#0019fc"/><rect x="575.85" y="435.94" width="16.11" height="4.02" fill="#0016fc"/><rect x="591.96" y="435.94" width="16.11" height="4.02" fill="#000efd"/><rect x="608.07" y="435.94" width="16.11" height="4.02" fill="#0003ff"/><rect x="624.18" y="435.94" width="193.32" height="4.02" fill="#0000ff"/><rect x="108.66" y="439.97" width="32.22" height="4.02" fill="#0000ff"/><rect x="140.88" y="439.97" width="16.11" height="4.02" fill="#0005fe"/><rect x="156.99" y="439.97" width="16.11" height="4.02" fill="#000afe"/><rect x="173.10" y="439.97" width="16.11" height="4.02" fill="#001efb"/><rect x="189.21" y="439.97" width="16.11" height="4.02" fill="#0041f2"/><rect x="205.32" y="439.97" width="16.11" height="4.02" fill="#0046f1"/><rect x="221.43" y="439.97" width="16.11" height="4.02" fill="#003cf4"/><rect x="237.54" y="439.97" width="16.11" height="4.02" fill="#005fe8"/><rect x="253.65" y="439.97" width="16.11" height="4.02" fill="#0064e6"/><rect x="269.76" y="439.97" width="16.11" height="4.02" fill="#0078da"/><rect x="285.87" y="439.97" width="16.11" height="4.02" fill="#0082d2"/><rect x="301.98" y="439.97" width="16.11" height="4.02" fill="#0091c8"/><rect x="318.09" y="439.97" width="16.11" height="4.02" fill="#0096c3"/><rect x="334.20" y="439.97" width="32.22" height="4.02" fill="#00a5b4"/><rect x="366.42" y="439.97" width="16.11" height="4.02" fill="#00a0b9"/><rect x="382.53" y="439.97" width="16.11" height="4.02" fill="#009bbe"/><rect x="398.64" y="439.97" width="16.11" height="4.02" fill="#0096c3"/><rect x="414.75" y="439.97" width="16.11" height="4.02" fill="#006ee0"/><rect x="430.86" y="439.97" width="16.11" height="4.02" fill="#0050ed"/><rect x="446.97" y="439.97" width="16.11" height="4.02" fill="#004bef"/><rect x="463.08" y="439.97" width="16.11" height="4.02" fill="#0050ed"/><rect x="479.19" y="439.97" width="32.22" height="4.02" fill="#004bef"/><rect x="511.41" y="439.97" width="16.11" height="4.02" fill="#0046f1"/><rect x="527.52" y="439.97" width="16.11" height="4.02" fill="#0032f8"/><rect x="543.63" y="439.97" width="16.11" height="4.02" fill="#0019fc"/><rect x="559.74" y="439.97" width="16.11" height="4.02" fill="#0012fc"/><rect x="575.85" y="439.97" width="16.11" height="4.02" fill="#000efd"/><rect x="591.96" y="439.97" width="16.11" height="4.02" fill="#0007fe"/><rect x="608.07" y="439.97" width="209.43" height="4.02" fill="#0000ff"/><rect x="108.66" y="443.99" width="32.22" height="4.02" fill="#0000ff"/><rect x="140.88" y="443.99" width="16.11" height="4.02" fill="#000afe"/><rect x="156.99" y="443.99" width="16.11" height="4.02" fill="#000ffd"/><rect x="173.10" y="443.99" width="16.11" height="4.02" fill="#002df9"/><rect x="189.21" y="443.99" width="16.11" height="4.02" fill="#0064e6"/><rect x="205.32" y="443.99" width="16.11" height="4.02" fill="#006ee0"/><rect x="221.43" y="443.99" width="16.11" height="4.02" fill="#005aea"/><rect x="237.54" y="443.99" width="16.11" height="4.02" fill="#0073dd"/><rect x="253.65" y="443.99" width="16.11" height="4.02" fill="#0078da"/><rect x="269.76" y="443.99" width="16.11" height="4.02" fill="#0091c8"/><rect x="285.87" y="443.99" width="32.22" height="4.02" fill="#009bbe"/><rect x="318.09" y="443.99" width="16.11" height="4.02" fill="#00a0b9"/><rect x="334.20" y="443.99" width="16.11" height="4.02" fill="#00a5b4"/><rect x="350.31" y="443.99" width="16.11" height="4.02" fill="#009bbe"/><rect x="366.42" y="443.99" width="16.11" height="4.02" fill="#0091c8"/><rect x="382.53" y="443.99" width="16.11" height="4.02" fill="#008ccc"/><rect x="398.64" y="443.99" width="16.11" height="4.02" fill="#007dd6"/><rect x="414.75" y="443.99" width="16.11" height="4.02" fill="#0050ed"/><rect x="430.86" y="443.99" width="16.11" height="4.02" fill="#003cf4"/><rect x="446.97" y="443.99" width="32.22" height="4.02" fill="#0037f6"/><rect x="479.19" y="443.99" width="32.22" height="4.02" fill="#0032f8"/><rect x="511.41" y="443.99" width="16.11" height="4.02" fill="#002df9"/><rect x="527.52" y="443.99" width="16.11" height="4.02" fill="#0023fa"/><rect x="543.63" y="443.99" width="16.11" height="4.02" fill="#0012fc"/><rect x="559.74" y="443.99" width="16.11" height="4.02" fill="#000afe"/><rect x="575.85" y="443.99" width="16.11" height="4.02" fill="#0007fe"/><rect x="591.96" y="443.99" width="16.11" height="4.02" fill="#0003ff"/><rect x="608.07" y="443.99" width="209.43" height="4.02" fill="#0000ff"/><rect x="108.66" y="448.01" width="32.22" height="4.02" fill="#0005fe"/><rect x="140.88" y="448.01" width="16.11" height="4.02" fill="#000ffd"/><rect x="156.99" y="448.01" width="16.11" height="4.02" fill="#0019fc"/><rect x="173.10" y="448.01" width="16.11" height="4.02" fill="#003cf4"/><rect x="189.21" y="448.01" width="16.11" height="4.02" fill="#00a5b4"/><rect x="205.32" y="448.01" width="16.11" height="4.02" fill="#00acad"/><rect x="221.43" y="448.01" width="16.11" height="4.02" fill="#007dd6"/><rect x="237.54" y="448.01" width="32.22" height="4.02" fill="#0082d2"/><rect x="269.76" y="448.01" width="16.11" height="4.02" fill="#00a0b9"/><rect x="285.87" y="448.01" width="32.22" height="4.02" fill="#00a5b4"/><rect x="318.09" y="448.01" width="16.11" height="4.02" fill="#00a0b9"/><rect x="334.20" y="448.01" width="16.11" height="4.02" fill="#0091c8"/><rect x="350.31" y="448.01" width="16.11" height="4.02" fill="#0082d2"/><rect x="366.42" y="448.01" width="16.11" height="4.02" fill="#0078da"/><rect x="382.53" y="448.01" width="16.11" height="4.02" fill="#006ee0"/><rect x="398.64" y="448.01" width="16.11" height="4.02" fill="#0064e6"/><rect x="414.75" y="448.01" width="16.11" height="4.02" fill="#003cf4"/><rect x="430.86" y="448.01" width="16.11" height="4.02" fill="#002df9"/><rect x="446.97" y="448.01" width="32.22" height="4.02" fill="#0028f9"/><rect x="479.19" y="448.01" width="32.22" height="4.02" fill="#0023fa"/><rect x="511.41" y="448.01" width="16.11" height="4.02" fill="#001bfb"/><rect x="527.52" y="448.01" width="16.11" height="4.02" fill="#0016fc"/><rect x="543.63" y="448.01" width="16.11" height="4.02" fill="#000afe"/><rect x="559.74" y="448.01" width="16.11" height="4.02" fill="#0007fe"/><rect x="575.85" y="448.01" width="16.11" height="4.02" fill="#0003ff"/><rect x="591.96" y="448.01" width="225.54" height="4.02" fill="#0000ff"/><rect x="108.66" y="452.03" width="16.11" height="4.02" fill="#0005fe"/><rect x="124.77" y="452.03" width="16.11" height="4.02" fill="#000afe"/><rect x="140.88" y="452.03" width="16.11" height="4.02" fill="#0014fc"/><rect x="156.99" y="452.03" width="16.11" height="4.02" fill="#0023fa"/><rect x="173.10" y="452.03" width="16.11" height="4.02" fill="#004bef"/><rect x="189.21" y="452.03" width="16.11" height="4.02" fill="#00c98e"/><rect x="205.32" y="452.03" width="16.11" height="4.02" fill="#00de78"/><rect x="221.43" y="452.03" width="16.11" height="4.02" fill="#0096c3"/><rect x="237.54" y="452.03" width="16.11" height="4.02" fill="#0087cf"/><rect x="253.65" y="452.03" width="16.11" height="4.02" fill="#0082d2"/><rect x="269.76" y="452.03" width="32.22" height="4.02" fill="#0096c3"/><rect x="301.98" y="452.03" width="16.11" height="4.02" fill="#0091c8"/><rect x="318.09" y="452.03" width="16.11" height="4.02" fill="#0082d2"/><rect x="334.20" y="452.03" width="16.11" height="4.02" fill="#0078da"/><rect x="350.31" y="452.03" width="16.11" height="4.02" fill="#0069e4"/><rect x="366.42" y="452.03" width="16.11" height="4.02" fill="#005fe8"/><rect x="382.53" y="452.03" width="16.11" height="4.02" fill="#0055eb"/><rect x="398.64" y="452.03" width="16.11" height="4.02" fill="#004bef"/><rect x="414.75" y="452.03" width="16.11" height="4.02" fill="#002df9"/><rect x="430.86" y="452.03" width="16.11" height="4.02" fill="#001efb"/><rect x="446.97" y="452.03" width="32.22" height="4.02" fill="#001bfb"/><rect x="479.19" y="452.03" width="32.22" height="4.02" fill="#0016fc"/><rect x="511.41" y="452.03" width="16.11" height="4.02" fill="#0012fc"/><rect x="527.52" y="452.03" width="16.11" height="4.02" fill="#000efd"/><rect x="543.63" y="452.03" width="16.11" height="4.02" fill="#0007fe"/><rect x="559.74" y="452.03" width="16.11" height="4.02" fill="#0003ff"/><rect x="575.85" y="452.03" width="241.65" height="4.02" fill="#0000ff"/><rect x="108.66" y="456.06" width="16.11" height="4.02" fill="#000afe"/><rect x="124.77" y="456.06" width="16.11" height="4.02" fill="#000ffd"/><rect x="140.88" y="456.06" width="16.11" height="4.02" fill="#001efb"/><rect x="156.99" y="456.06" width="16.11" height="4.02" fill="#0028f9"/><rect x="173.10" y="456.06" width="16.11" height="4.02" fill="#005fe8"/><rect x="189.21" y="456.06" width="32.22" height="4.02" fill="#28eb5c"/><rect x="221.43" y="456.06" width="16.11" height="4.02" fill="#0096c3"/><rect x="237.54" y="456.06" width="16.11" height="4.02" fill="#0082d2"/><rect x="253.65" y="456.06" width="32.22" height="4.02" fill="#0078da"/><rect x="285.87" y="456.06" width="16.11" height="4.02" fill="#0073dd"/><rect x="301.98" y="456.06" width="16.11" height="4.02" fill="#0064e6"/><rect x="318.09" y="456.06" width="16.11" height="4.02" fill="#005aea"/><rect x="334.20" y="456.06" width="16.11" height="4.02" fill="#0055eb"/><rect x="350.31" y="456.06" width="16.11" height="4.02" fill="#004bef"/><rect x="366.42" y="456.06" width="16.11" height="4.02" fill="#0041f2"/><rect x="382.53" y="456.06" width="16.11" height="4.02" fill="#003cf4"/><rect x="398.64" y="456.06" width="16.11" height="4.02" fill="#0032f8"/><rect x="414.75" y="456.06" width="16.11" height="4.02" fill="#001efb"/><rect x="430.86" y="456.06" width="16.11" height="4.02" fill="#0016fc"/><rect x="446.97" y="456.06" width="32.22" height="4.02" fill="#0012fc"/><rect x="479.19" y="456.06" width="32.22" height="4.02" fill="#000efd"/><rect x="511.41" y="456.06" width="16.11" height="4.02" fill="#000afe"/><rect x="527.52" y="456.06" width="16.11" height="4.02" fill="#0007fe"/><rect x="543.63" y="456.06" width="16.11" height="4.02" fill="#0003ff"/><rect x="559.74" y="456.06" width="257.76" height="4.02" fill="#0000ff"/><rect x="108.66" y="460.08" width="16.11" height="4.02" fill="#000afe"/><rect x="124.77" y="460.08" width="16.11" height="4.02" fill="#0014fc"/><rect x="140.88" y="460.08" width="16.11" height="4.02" fill="#0023fa"/><rect x="156.99" y="460.08" width="16.11" height="4.02" fill="#002df9"/><rect x="173.10" y="460.08" width="16.11" height="4.02" fill="#006ee0"/><rect x="189.21" y="460.08" width="32.22" height="4.02" fill="#28eb5c"/><rect x="221.43" y="460.08" width="16.11" height="4.02" fill="#0078da"/><rect x="237.54" y="460.08" width="16.11" height="4.02" fill="#006ee0"/><rect x="253.65" y="460.08" width="16.11" height="4.02" fill="#0064e6"/><rect x="269.76" y="460.08" width="16.11" height="4.02" fill="#005aea"/><rect x="285.87" y="460.08" width="16.11" height="4.02" fill="#0055eb"/><rect x="301.98" y="460.08" width="16.11" height="4.02" fill="#0046f1"/><rect x="318.09" y="460.08" width="16.11" height="4.02" fill="#0041f2"/><rect x="334.20" y="460.08" width="16.11" height="4.02" fill="#0037f6"/><rect x="350.31" y="460.08" width="16.11" height="4.02" fill="#0032f8"/><rect x="366.42" y="460.08" width="16.11" height="4.02" fill="#002df9"/><rect x="382.53" y="460.08" width="16.11" height="4.02" fill="#0028f9"/><rect x="398.64" y="460.08" width="16.11" height="4.02" fill="#0023fa"/><rect x="414.75" y="460.08" width="16.11" height="4.02" fill="#0012fc"/><rect x="430.86" y="460.08" width="16.11" height="4.02" fill="#000efd"/><rect x="446.97" y="460.08" width="32.22" height="4.02" fill="#000afe"/><rect x="479.19" y="460.08" width="48.33" height="4.02" fill="#0007fe"/><rect x="527.52" y="460.08" width="16.11" height="4.02" fill="#0003ff"/><rect x="543.63" y="460.08" width="273.87" height="4.02" fill="#0000ff"/><rect x="108.66" y="464.10" width="16.11" height="3.20" fill="#0007fe"/><rect x="124.77" y="464.10" width="16.11" height="3.20" fill="#000efd"/><rect x="140.88" y="464.10" width="16.11" height="3.20" fill="#0019fc"/><rect x="156.99" y="464.10" width="16.11" height="3.20" fill="#0020fb"/><rect x="173.10" y="464.10" width="16.11" height="3.20" fill="#005aea"/><rect x="189.21" y="464.10" width="32.22" height="3.20" fill="#00b4a5"/><rect x="221.43" y="464.10" width="16.11" height="3.20" fill="#005aea"/><rect x="237.54" y="464.10" width="16.11" height="3.20" fill="#004dee"/><rect x="253.65" y="464.10" width="16.11" height="3.20" fill="#0044f1"/><rect x="269.76" y="464.10" width="16.11" height="3.20" fill="#003df4"/><rect x="285.87" y="464.10" width="16.11" height="3.20" fill="#003af5"/><rect x="301.98" y="464.10" width="16.11" height="3.20" fill="#0030f8"/><rect x="318.09" y="464.10" width="16.11" height="3.20" fill="#002cf9"/><rect x="334.20" y="464.10" width="16.11" height="3.20" fill="#0026fa"/><rect x="350.31" y="464.10" width="16.11" height="3.20" fill="#0023fa"/><rect x="366.42" y="464.10" width="16.11" height="3.20" fill="#0020fb"/><rect x="382.53" y="464.10" width="16.11" height="3.20" fill="#001cfb"/><rect x="398.64" y="464.10" width="16.11" height="3.20" fill="#0019fc"/><rect x="414.75" y="464.10" width="16.11" height="3.20" fill="#000cfd"/><rect x="430.86" y="464.10" width="16.11" height="3.20" fill="#000afe"/><rect x="446.97" y="464.10" width="32.22" height="3.20" fill="#0007fe"/><rect x="479.19" y="464.10" width="48.33" height="3.20" fill="#0005fe"/><rect x="527.52" y="464.10" width="16.11" height="3.20" fill="#0002ff"/><rect x="543.63" y="464.10" width="273.87" height="3.20" fill="#0000ff"/></g><path d="M173.10,467.3 v-9.5 M173.10,19.5 v9.5 M253.65,467.3 v-9.5 M253.65,19.5 v9.5 M334.20,467.3 v-9.5 M334.20,19.5 v9.5 M414.75,467.3 v-9.5 M414.75,19.5 v9.5 M495.30,467.3 v-9.5 M495.30,19.5 v9.5 M575.85,467.3 v-9.5 M575.85,19.5 v9.5 M656.40,467.3 v-9.5 M656.40,19.5 v9.5 M736.95,467.3 v-9.5 M736.95,19.5 v9.5 M817.50,467.3 v-9.5 M817.50,19.5 v9.5 M108.66,467.30 h9.5 M817.5,467.30 h-9.5 M108.66,404.40 h9.5 M817.5,404.40 h-9.5 M108.66,341.50 h9.5 M817.5,341.50 h-9.5 M108.66,278.60 h9.5 M817.5,278.60 h-9.5 M108.66,215.70 h9.5 M817.5,215.70 h-9.5 M108.66,152.80 h9.5 M817.5,152.80 h-9.5 M108.66,89.90 h9.5 M817.5,89.90 h-9.5 M108.66,27.00 h9.5 M817.5,27.00 h-9.5" stroke="#000" stroke-width="1.7" fill="none"/><rect x="108.66" y="19.5" width="708.84" height="447.80" stroke="#000" stroke-width="2" fill="none"/><text font-size="29.6" text-anchor="end" transform="translate(95.5,477.65) scale(0.97,1.045)">0.0</text><text font-size="29.6" text-anchor="end" transform="translate(95.5,414.50) scale(0.97,1.045)">0.5</text><text font-size="29.6" text-anchor="end" transform="translate(95.5,351.35) scale(0.97,1.045)">1.0</text><text font-size="29.6" text-anchor="end" transform="translate(95.5,288.20) scale(0.97,1.045)">1.5</text><text font-size="29.6" text-anchor="end" transform="translate(95.5,225.05) scale(0.97,1.045)">2.0</text><text font-size="29.6" text-anchor="end" transform="translate(95.5,161.90) scale(0.97,1.045)">2.5</text><text font-size="29.6" text-anchor="end" transform="translate(95.5,98.75) scale(0.97,1.045)">3.0</text><text font-size="29.6" text-anchor="end" transform="translate(95.5,35.60) scale(0.97,1.045)">3.5</text><text font-size="29.3" text-anchor="middle" transform="translate(173.10,503.3) scale(0.98,1.04)">5</text><text font-size="29.3" text-anchor="middle" transform="translate(253.65,503.3) scale(0.98,1.04)">10</text><text font-size="29.3" text-anchor="middle" transform="translate(334.20,503.3) scale(0.98,1.04)">15</text><text font-size="29.3" text-anchor="middle" transform="translate(414.75,503.3) scale(0.98,1.04)">20</text><text font-size="29.3" text-anchor="middle" transform="translate(495.30,503.3) scale(0.98,1.04)">25</text><text font-size="29.3" text-anchor="middle" transform="translate(575.85,503.3) scale(0.98,1.04)">30</text><text font-size="29.3" text-anchor="middle" transform="translate(656.40,503.3) scale(0.98,1.04)">35</text><text font-size="29.3" text-anchor="middle" transform="translate(736.95,503.3) scale(0.98,1.04)">40</text><text font-size="29.3" text-anchor="middle" transform="translate(817.50,503.3) scale(0.98,1.04)">45</text><text x="463" y="547" font-size="29" text-anchor="middle">Charge state</text><text x="0" y="0" font-size="29" text-anchor="middle" transform="translate(27.5,242) rotate(-90)">Fluence (mJ <tspan font-family="Liberation Serif">µ</tspan>m<tspan font-size="20" dy="-11">−2</tspan><tspan dy="11">)</tspan></text><text x="182" y="85.5" font-size="29" fill="#fff">5.5 keV</text><text x="0" y="0" font-size="42" font-weight="bold" transform="translate(-1,23) scale(0.92,0.98)">a</text><defs><linearGradient id="cbg" x1="0" y1="1" x2="0" y2="0"><stop offset="0.0000" stop-color="#0000ff"/><stop offset="0.0167" stop-color="#000cfd"/><stop offset="0.0333" stop-color="#0019fc"/><stop offset="0.0500" stop-color="#0025fa"/><stop offset="0.0667" stop-color="#0032f8"/><stop offset="0.0833" stop-color="#0040f3"/><stop offset="0.1000" stop-color="#004dee"/><stop offset="0.1167" stop-color="#005be9"/><stop offset="0.1333" stop-color="#0069e4"/><stop offset="0.1500" stop-color="#0073dd"/><stop offset="0.1667" stop-color="#007dd6"/><stop offset="0.1833" stop-color="#0087cf"/><stop offset="0.2000" stop-color="#0091c8"/><stop offset="0.2167" stop-color="#009abf"/><stop offset="0.2333" stop-color="#00a2b6"/><stop offset="0.2500" stop-color="#00abae"/><stop offset="0.2667" stop-color="#00b4a5"/><stop offset="0.2833" stop-color="#00be9a"/><stop offset="0.3000" stop-color="#00c98e"/><stop offset="0.3167" stop-color="#00d483"/><stop offset="0.3333" stop-color="#00de78"/><stop offset="0.3500" stop-color="#0ce270"/><stop offset="0.3667" stop-color="#17e667"/><stop offset="0.3833" stop-color="#23ea5f"/><stop offset="0.4000" stop-color="#2fed57"/><stop offset="0.4167" stop-color="#3af14e"/><stop offset="0.4333" stop-color="#46f546"/><stop offset="0.4500" stop-color="#53f63f"/><stop offset="0.4667" stop-color="#61f739"/><stop offset="0.4833" stop-color="#6ef832"/><stop offset="0.5000" stop-color="#7bf82b"/><stop offset="0.5167" stop-color="#89f925"/><stop offset="0.5333" stop-color="#96fa1e"/><stop offset="0.5500" stop-color="#a1f819"/><stop offset="0.5667" stop-color="#acf514"/><stop offset="0.5833" stop-color="#b6f20f"/><stop offset="0.6000" stop-color="#c1f00a"/><stop offset="0.6167" stop-color="#ccee05"/><stop offset="0.6333" stop-color="#d7eb00"/><stop offset="0.6500" stop-color="#e4e700"/><stop offset="0.6667" stop-color="#f8dd00"/><stop offset="0.6833" stop-color="#ffd100"/><stop offset="0.7000" stop-color="#ffca00"/><stop offset="0.7167" stop-color="#ffc400"/><stop offset="0.7333" stop-color="#ffbd00"/><stop offset="0.7500" stop-color="#ffb700"/><stop offset="0.7667" stop-color="#ffb000"/><stop offset="0.7833" stop-color="#ffaa00"/><stop offset="0.8000" stop-color="#ffa300"/><stop offset="0.8167" stop-color="#ff9d00"/><stop offset="0.8333" stop-color="#ff9600"/><stop offset="0.8500" stop-color="#ff8a00"/><stop offset="0.8667" stop-color="#ff7d00"/><stop offset="0.8833" stop-color="#ff7100"/><stop offset="0.9000" stop-color="#ff6400"/><stop offset="0.9167" stop-color="#ff5800"/><stop offset="0.9333" stop-color="#ff4b00"/><stop offset="0.9500" stop-color="#ff3800"/><stop offset="0.9667" stop-color="#ff2600"/><stop offset="0.9833" stop-color="#ff1300"/><stop offset="1.0000" stop-color="#ff0000"/></linearGradient></defs><rect x="835.2" y="19.5" width="35.30" height="447.80" fill="url(#cbg)"/><path d="M835.2,318.03 h6.5 M870.5,318.03 h-6.5 M835.2,168.77 h6.5 M870.5,168.77 h-6.5" stroke="#000" stroke-width="1.7" fill="none"/><rect x="835.2" y="19.5" width="35.30" height="447.80" stroke="#000" stroke-width="2" fill="none"/><text font-size="29.3" transform="translate(880.9,476.90) scale(0.97,1.045)">0.0</text><text font-size="29.3" transform="translate(880.9,327.63) scale(0.97,1.045)">0.1</text><text font-size="29.3" transform="translate(880.9,178.37) scale(0.97,1.045)">0.2</text><text font-size="29.3" transform="translate(880.9,29.10) scale(0.97,1.045)">0.3</text><text x="0" y="0" font-size="29.5" text-anchor="middle" transform="translate(965.6,243.5) rotate(-90)">Fractional yield</text><path d="M109.00,1030.5 v-7 M109.00,619.10 v7 M171.31,1030.5 v-4 M171.31,619.10 v4 M207.76,1030.5 v-4 M207.76,619.10 v4 M233.63,1030.5 v-4 M233.63,619.10 v4 M253.69,1030.5 v-4 M253.69,619.10 v4 M270.08,1030.5 v-4 M270.08,619.10 v4 M283.94,1030.5 v-4 M283.94,619.10 v4 M295.94,1030.5 v-4 M295.94,619.10 v4 M306.53,1030.5 v-4 M306.53,619.10 v4 M316.00,1030.5 v-7 M316.00,619.10 v7 M378.31,1030.5 v-4 M378.31,619.10 v4 M414.76,1030.5 v-4 M414.76,619.10 v4 M440.63,1030.5 v-4 M440.63,619.10 v4 M460.69,1030.5 v-4 M460.69,619.10 v4 M477.08,1030.5 v-4 M477.08,619.10 v4 M490.94,1030.5 v-4 M490.94,619.10 v4 M502.94,1030.5 v-4 M502.94,619.10 v4 M513.53,1030.5 v-4 M513.53,619.10 v4 M523.00,1030.5 v-7 M523.00,619.10 v7 M585.31,1030.5 v-4 M585.31,619.10 v4 M621.76,1030.5 v-4 M621.76,619.10 v4 M647.63,1030.5 v-4 M647.63,619.10 v4 M667.69,1030.5 v-4 M667.69,619.10 v4 M684.08,1030.5 v-4 M684.08,619.10 v4 M697.94,1030.5 v-4 M697.94,619.10 v4 M709.94,1030.5 v-4 M709.94,619.10 v4 M720.53,1030.5 v-4 M720.53,619.10 v4 M730.00,1030.5 v-7 M730.00,619.10 v7 M792.31,1030.5 v-4 M792.31,619.10 v4 M828.76,1030.5 v-4 M828.76,619.10 v4 M854.63,1030.5 v-4 M854.63,619.10 v4 M874.69,1030.5 v-4 M874.69,619.10 v4 M891.08,1030.5 v-4 M891.08,619.10 v4 M904.94,1030.5 v-4 M904.94,619.10 v4 M916.94,1030.5 v-4 M916.94,619.10 v4 M927.53,1030.5 v-4 M927.53,619.10 v4 M937.00,1030.5 v-7 M937.00,619.10 v7 M109.0,1030.50 h6.5 M937.0,1030.50 h-6.5 M109.0,955.70 h6.5 M937.0,955.70 h-6.5 M109.0,880.90 h6.5 M937.0,880.90 h-6.5 M109.0,806.10 h6.5 M937.0,806.10 h-6.5 M109.0,731.30 h6.5 M937.0,731.30 h-6.5 M109.0,656.50 h6.5 M937.0,656.50 h-6.5" stroke="#000" stroke-width="1.7" fill="none"/><path d="M592.6,712.4 h3.2 V739 h3.0 L594.2,756 L589.6,739 h3.0 Z" fill="#dd0000"/><path d="M648.1,667.2 h3.2 V694.1 h3.0 L649.7,711.1 L645.1,694.1 h3.0 Z" fill="#0000dd"/><path d="M668.3,650.2 h3.2 V676.5 h3.0 L669.9,693.5 L665.3,676.5 h3.0 Z" fill="#00aa00"/><svg x="109.0" y="619.0999999999999" width="828.0" height="411.4000000000001" viewBox="109.0 619.0999999999999 828.0 411.4000000000001" overflow="hidden"><path d="M108.00,1020.20 L158.40,1013.60 L211.50,1000.80 L273.90,977.90 L336.40,943.00 L387.00,898.50 L411.30,875.20 L436.00,849.70 L450.00,837.00 L460.60,826.60 L471.60,819.80 L482.10,813.60 L493.20,807.70 L502.50,803.30 L509.30,799.80 L518.50,795.70 L527.80,791.70 L537.00,788.00 L543.20,785.60 L549.40,782.20 L555.60,778.80 L562.30,775.60 L577.90,766.40 L594.40,757.90 L610.50,748.30 L630.00,740.60 L650.00,732.60 L670.00,726.40 L688.00,719.80 L707.00,714.50 L730.00,711.30 L760.00,707.50 L790.00,704.40 L825.00,703.00 L860.00,702.00 L900.00,701.50 L937.00,700.90" fill="none" stroke="#dd0000" stroke-width="3.3" stroke-linejoin="round"/><path d="M108.00,1025.10 L174.00,1019.80 L226.60,1010.60 L288.80,992.60 L325.50,978.80 L371.30,951.10 L404.80,925.70 L422.90,907.60 L449.50,879.30 L462.40,863.20 L474.70,850.60 L484.00,839.50 L493.20,828.40 L502.50,816.70 L510.00,806.80 L519.80,794.50 L525.90,786.00 L532.10,778.50 L539.50,770.60 L545.00,765.40 L548.10,762.00 L557.30,753.20 L569.70,744.00 L582.00,737.60 L594.40,731.90 L606.70,726.90 L619.10,722.40 L630.00,719.00 L650.00,711.90 L670.00,706.80 L696.00,699.00 L730.00,692.60 L760.00,686.80 L790.00,681.50 L825.00,677.00 L860.00,672.90 L900.00,670.60 L937.00,668.30" fill="none" stroke="#0000dd" stroke-width="3.3" stroke-linejoin="round"/><path d="M108.00,1028.40 L192.60,1024.40 L248.00,1020.50 L311.60,1010.20 L347.10,1001.80 L390.00,985.30 L422.90,970.20 L449.30,954.00 L485.50,926.50 L515.10,896.90 L550.00,856.60 L572.30,830.00 L600.30,790.50 L611.00,775.60 L619.30,764.80 L629.10,749.80 L640.90,730.10 L653.20,714.70 L670.80,695.30 L681.60,686.70 L692.40,681.30 L703.20,677.00 L714.00,674.10 L730.00,671.60 L760.00,667.70 L790.00,664.90 L825.00,662.10 L860.00,660.00 L900.00,657.40 L937.00,655.10" fill="none" stroke="#00aa00" stroke-width="3.3" stroke-linejoin="round"/></svg><rect x="109.0" y="619.10" width="828.0" height="411.40" stroke="#000" stroke-width="2" fill="none"/><text x="148" y="781.0" font-size="25">5.5 keV</text><path d="M245.8,773.4 H313.9" stroke="#dd0000" stroke-width="3.3"/><text x="148" y="832.5" font-size="25">6.5 keV</text><path d="M245.8,824.9 H313.9" stroke="#0000dd" stroke-width="3.3"/><text x="148" y="884.0" font-size="25">8.3 keV</text><path d="M245.8,876.4 H313.9" stroke="#00aa00" stroke-width="3.3"/><text font-size="29.5" text-anchor="end" transform="translate(95.8,1040.10) scale(0.98,1.045)">0</text><text font-size="29.5" text-anchor="end" transform="translate(95.8,965.30) scale(0.98,1.045)">10</text><text font-size="29.5" text-anchor="end" transform="translate(95.8,890.50) scale(0.98,1.045)">20</text><text font-size="29.5" text-anchor="end" transform="translate(95.8,815.70) scale(0.98,1.045)">30</text><text font-size="29.5" text-anchor="end" transform="translate(95.8,740.90) scale(0.98,1.045)">40</text><text font-size="29.5" text-anchor="end" transform="translate(95.8,666.10) scale(0.98,1.045)">50</text><text x="110.50" y="1070" font-size="29" text-anchor="middle">10<tspan font-size="20.5" dy="-12">−2</tspan></text><text x="317.50" y="1070" font-size="29" text-anchor="middle">10<tspan font-size="20.5" dy="-12">−1</tspan></text><text x="524.50" y="1070" font-size="29" text-anchor="middle">10<tspan font-size="20.5" dy="-12">0</tspan></text><text x="731.50" y="1070" font-size="29" text-anchor="middle">10<tspan font-size="20.5" dy="-12">1</tspan></text><text x="938.50" y="1070" font-size="29" text-anchor="middle">10<tspan font-size="20.5" dy="-12">2</tspan></text><text x="523" y="1119" font-size="29" text-anchor="middle">Fluence (mJ <tspan font-family="Liberation Serif">µ</tspan>m<tspan font-size="20" dy="-11">−2</tspan><tspan dy="11">)</tspan></text><text x="0" y="0" font-size="29.9" text-anchor="middle" transform="translate(33.8,827.9) rotate(-90)">Final mean charge</text><text x="-1" y="630" font-size="42" font-weight="bold">b</text></svg></body></html>
